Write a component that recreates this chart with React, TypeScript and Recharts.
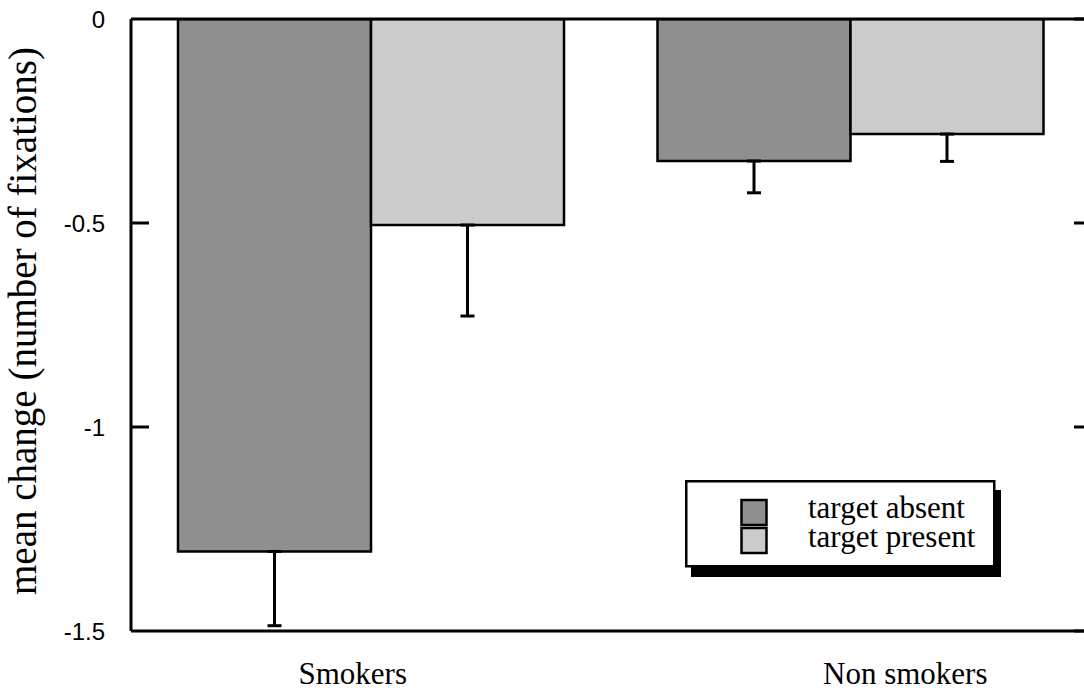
import React from 'react';
import { BarChart, Bar, XAxis, YAxis, ErrorBar, ReferenceLine, Label } from 'recharts';

const categories = ['Smokers', 'Non smokers'];
const absentValues = [-1.305, -0.348];
const presentValues = [-0.505, -0.282];
const absentErrors = [0.182, 0.078];
const presentErrors = [0.223, 0.067];
const yTicks = [0, -0.5, -1, -1.5];
const yTickLabels = ['0', '-0.5', '-1', '-1.5'];
const innerTicks = [-0.5, -1];
const seriesNames = ['target absent', 'target present'];
const yAxisTitle = 'mean change (number of fixations)';

const ABSENT_COLOR = '#8f8f8f';
const PRESENT_COLOR = '#cbcbcb';
const seriesColors = [ABSENT_COLOR, PRESENT_COLOR];

const data = categories.map((c, i) => ({
  name: c,
  absent: absentValues[i],
  present: presentValues[i],
  absentErr: [absentErrors[i], 0],
  presentErr: [presentErrors[i], 0],
}));

const Y_DOMAIN: [number, number] = [-1.5, 0];
const PLOT_LEFT = 131;
const PLOT_TOP = 19;
const PLOT_HEIGHT = 612;
const PLOT_WIDTH = 959;
const xLabelShift = [-18, 55];
const SERIF = "'Liberation Serif', 'Times New Roman', serif";

const yToPixel = (v: number) =>
  PLOT_TOP + ((Y_DOMAIN[1] - v) / (Y_DOMAIN[1] - Y_DOMAIN[0])) * PLOT_HEIGHT;

const YTick = (props: any) => {
  const { x, y, payload } = props;
  const idx = yTicks.indexOf(payload.value);
  return (
    <g>
      <text x={x - 26} y={y} textAnchor="end" dominantBaseline="central"
        fontFamily="'Liberation Sans', Arial, sans-serif" fontSize={24} fill="#000">
        {idx >= 0 ? yTickLabels[idx] : payload.value}
      </text>
      <path d={`M${x + PLOT_WIDTH - 16},${y}L${x + PLOT_WIDTH},${y}`} stroke="#000" strokeWidth={3} fill="none" />
    </g>
  );
};

const XTick = (props: any) => {
  const { x, y, payload, index } = props;
  return (
    <text x={x + (xLabelShift[index] || 0)} y={y + 53} textAnchor="middle"
      fontFamily={SERIF} fontSize={31} fill="#000">
      {payload.value}
    </text>
  );
};

const LeftTickOverlay = () => (
  <svg width={1084} height={692}
    style={{ display: 'block', position: 'absolute', left: 0, top: 0, pointerEvents: 'none' }}>
    {innerTicks.map((t) => (
      <line key={t} x1={PLOT_LEFT} x2={PLOT_LEFT + 18} y1={yToPixel(t)} y2={yToPixel(t)}
        stroke="#000" strokeWidth={3} />
    ))}
  </svg>
);

const LegendBox = () => (
  <svg width={320} height={100} style={{ display: 'block', position: 'absolute', left: 685, top: 480 }}>
    <rect x={6} y={10} width={310} height={87} fill="#000" />
    <rect x={1.25} y={1.25} width={308} height={85} fill="#fff" stroke="#000" strokeWidth={2.5} />
    {seriesNames.map((n, i) => (
      <g key={n}>
        <rect x={56.5} y={20 + i * 28} width={25} height={25} fill={seriesColors[i]} stroke="#000" strokeWidth={2.5} />
        <text x={123} y={38 + i * 29} fontFamily={SERIF} fontSize={31} fill="#000">{n}</text>
      </g>
    ))}
  </svg>
);

export default function App() {
  return (
    <div style={{ position: 'fixed', left: 0, top: 0, width: 1084, height: 692, overflow: 'hidden', background: '#fff' }}>
      <BarChart width={1090} height={692} data={data}
        margin={{ top: PLOT_TOP, right: 0, bottom: 0, left: 0 }} barGap={0} barSize={193}>
        <XAxis dataKey="name" height={61} axisLine={{ stroke: '#000', strokeWidth: 3 }}
          tickLine={false} tickSize={0} tickMargin={0} tick={<XTick />} interval={0} />
        <YAxis width={PLOT_LEFT} domain={Y_DOMAIN} ticks={yTicks} allowDataOverflow
          axisLine={{ stroke: '#000', strokeWidth: 3 }} tickSize={0} tickMargin={0}
          tick={<YTick />} interval={0}>
          <Label content={() => (
            <text x={22} y={321} transform="rotate(-90 22 321)" textAnchor="middle" dominantBaseline="central"
              fontFamily={SERIF} fontSize={39} fill="#000">
              {yAxisTitle}
            </text>
          )} />
        </YAxis>
        <Bar dataKey="absent" name={seriesNames[0]} fill={ABSENT_COLOR} stroke="#000" strokeWidth={2.5} isAnimationActive={false}>
          <ErrorBar dataKey="absentErr" width={7} stroke="#000" strokeWidth={3} direction="y" />
        </Bar>
        <Bar dataKey="present" name={seriesNames[1]} fill={PRESENT_COLOR} stroke="#000" strokeWidth={2.5} isAnimationActive={false}>
          <ErrorBar dataKey="presentErr" width={7} stroke="#000" strokeWidth={3} direction="y" />
        </Bar>
        <ReferenceLine y={0} stroke="#000" strokeWidth={3} />
      </BarChart>
      <LeftTickOverlay />
      <LegendBox />
    </div>
  );
}
